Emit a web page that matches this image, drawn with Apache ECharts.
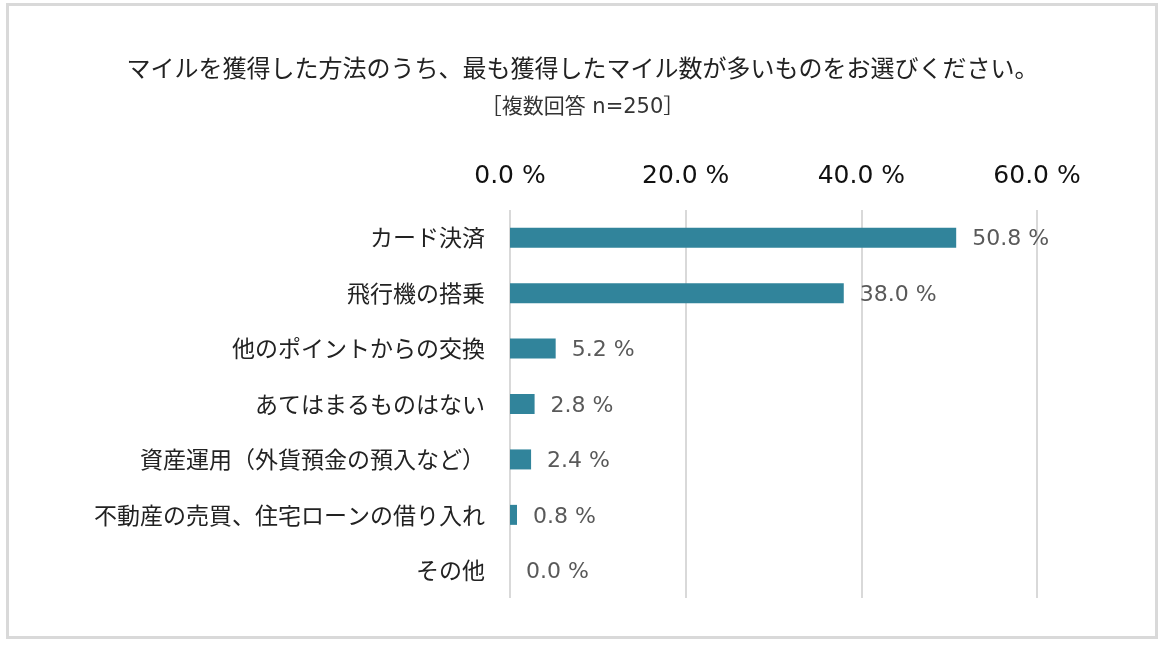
<!DOCTYPE html>
<html>
<head>
<meta charset="utf-8">
<script src="https://cdn.jsdelivr.net/npm/echarts@6/dist/echarts.min.js"></script>
<style>
html, body { margin: 0; padding: 0; background: #fff; }
#chart { width: 1165px; height: 646px; }
</style>
</head>
<body>
<div id="chart"></div>
<script>
var categories = ['カード決済', '飛行機の搭乗', '他のポイントからの交換', 'あてはまるものはない',
    '資産運用（外貨預金の預入など）', '不動産の売買、住宅ローンの借り入れ', 'その他'];
var values = [50.8, 38.0, 5.2, 2.8, 2.4, 0.8, 0.0];
var xTicks = [0, 20, 40, 60];

var font = '"Noto Sans CJK JP", "Noto Sans", sans-serif';
var numFont = '"DejaVu Sans", "Noto Sans", sans-serif';
var mixFont = '"DejaVu Sans", "Noto Sans CJK JP", sans-serif';

var chart = echarts.init(document.getElementById('chart'));
var option = {
    animation: false,
    title: [{
        text: 'マイルを獲得した方法のうち、最も獲得したマイル数が多いものをお選びください。',
        left: 'center',
        top: 51,
        textStyle: { fontFamily: font, fontSize: 24, fontWeight: 'normal', color: '#222' }
    }, {
        text: '［複数回答 n=250］',
        left: 'center',
        top: 92,
        textStyle: { fontFamily: mixFont, fontSize: 21, fontWeight: 'normal', color: '#333' }
    }],
    graphic: [{
        type: 'rect',
        shape: { x: 7.5, y: 4.5, width: 1149, height: 633 },
        style: { fill: 'none', stroke: '#d9d9d9', lineWidth: 3 },
        silent: true
    }],
    grid: { left: 510, right: 128, top: 210, bottom: 48 },
    xAxis: {
        type: 'value',
        position: 'top',
        min: xTicks[0],
        max: xTicks[xTicks.length - 1],
        interval: 20,
        axisLine: { show: false },
        axisTick: { show: false },
        axisLabel: {
            margin: 21,
            fontFamily: numFont,
            fontSize: 25,
            color: '#111',
            formatter: function (v) { return v.toFixed(1) + ' %'; }
        },
        splitLine: { lineStyle: { color: '#d9d9d9', width: 2 } }
    },
    yAxis: {
        type: 'category',
        inverse: true,
        data: categories,
        axisLine: { show: false },
        axisTick: { show: false },
        axisLabel: { margin: 25, fontFamily: font, fontSize: 23, color: '#222' }
    },
    series: [{
        type: 'bar',
        data: values,
        barWidth: 20,
        itemStyle: { color: '#31849b' },
        label: {
            show: true,
            position: 'right',
            distance: 16,
            offset: [0, 2],
            fontFamily: numFont,
            fontSize: 22,
            color: '#595959',
            formatter: function (p) { return p.value.toFixed(1) + ' %'; }
        }
    }]
};
chart.setOption(option);
</script>
</body>
</html>
